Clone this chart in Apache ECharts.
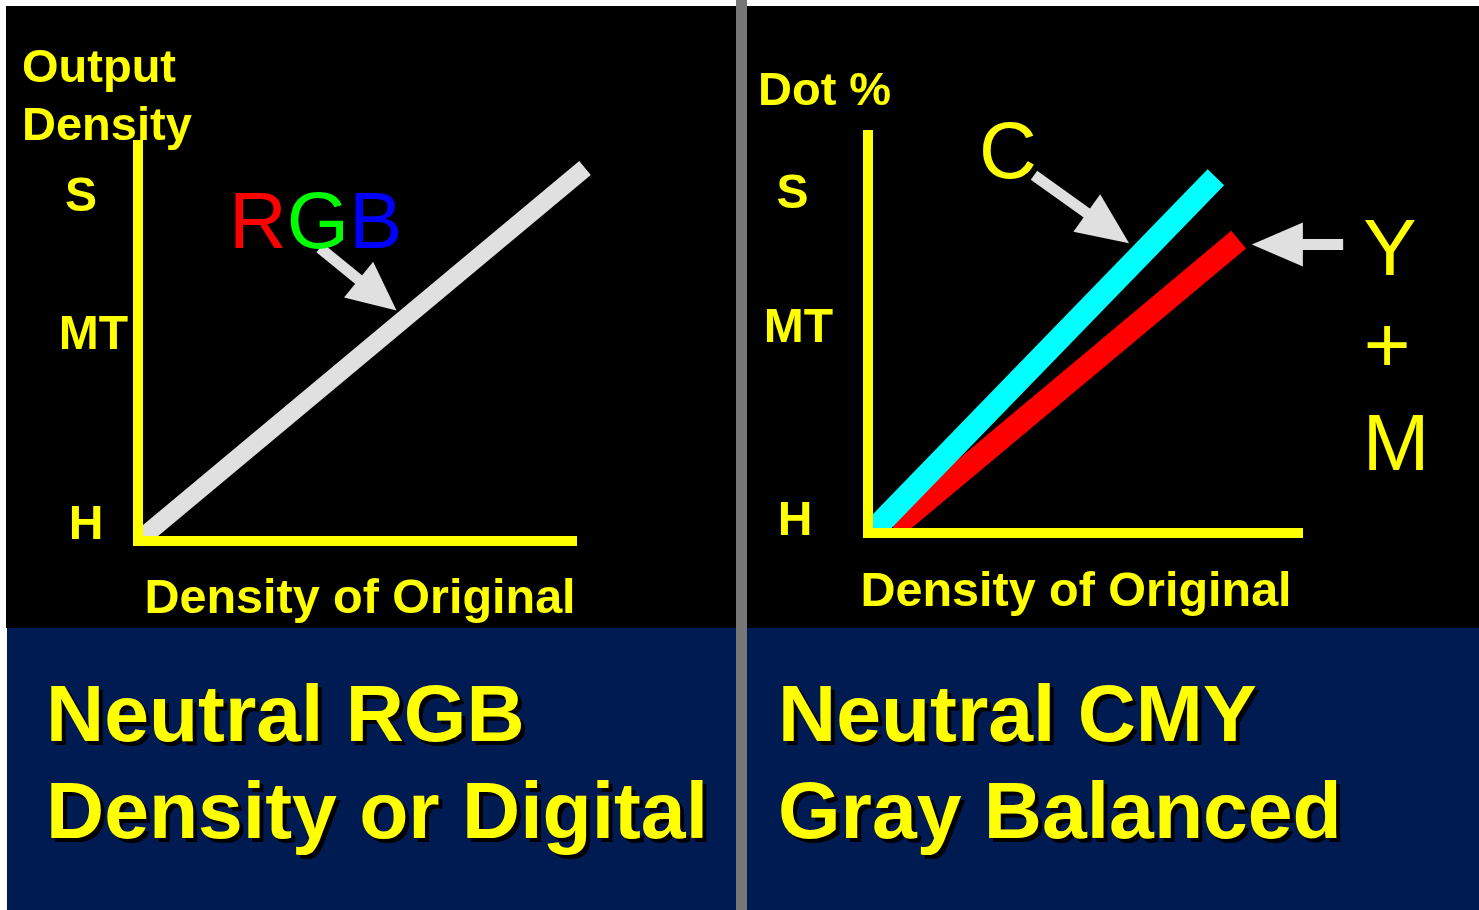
<!DOCTYPE html>
<html>
<head>
<meta charset="utf-8">
<title>Neutral RGB / Neutral CMY</title>
<script src="https://cdn.jsdelivr.net/npm/echarts@6/dist/echarts.min.js"></script>
<style>
    html, body { margin: 0; padding: 0; background: #ffffff; }
    #wrap { position: relative; width: 1479px; height: 910px; overflow: hidden; background: #ffffff; }
    .bg { position: absolute; }
    #char1 { position: absolute; left: 0; top: 0; width: 1479px; height: 910px; }
</style>
</head>
<body>
<div id="wrap">
    <div class="bg" style="left:6px;top:6px;width:730px;height:622px;background:#000000"></div>
    <div class="bg" style="left:747px;top:6px;width:732px;height:622px;background:#000000"></div>
    <div class="bg" style="left:7px;top:628px;width:729px;height:282px;background:#001a52"></div>
    <div class="bg" style="left:747px;top:628px;width:732px;height:282px;background:#001a52"></div>
    <div class="bg" style="left:736px;top:0px;width:11px;height:910px;background:#777777"></div>
    <div id="char1"></div>
</div>
<script>
// data, in axis units 0..100 (both axes)
var tickNames = ['S', 'MT', 'H'];
var leftTickValues = [86.6, 51.8, 3.9];
var rightTickValues = [85.1, 51.3, 2.8];

var rgbLine = [[1.24, 1.14], [103.0, 94.2]];
var cyanLine = [[1.53, 1.0], [80.9, 89.4]];
var ymLine = [[6.0, 1.26], [86.2, 73.7]];

// arrows: [start, head centre]
var rgbArrow = [[41.9, 74.0], [55.2, 62.1]];
var cArrow = [[38.6, 89.9], [55.8, 76.6]];
var ymArrow = [[110.5, 72.5], [95.2, 72.5]];

var FONT = '"Liberation Sans", Arial, Helvetica, sans-serif';
var YELLOW = '#ffff00';
var ARROW = '#e0e0e0';

function makeX(idx) {
    return {
        type: 'value', gridIndex: idx, min: 0, max: 100, z: 5,
        axisLine: { show: true, onZero: false, lineStyle: { color: YELLOW, width: 10, cap: 'square' } },
        axisTick: { show: false }, axisLabel: { show: false }, splitLine: { show: false }
    };
}

function makeY(idx, values, margin, rich) {
    return {
        type: 'value', gridIndex: idx, min: 0, max: 100, z: 5,
        axisLine: { show: true, onZero: false, lineStyle: { color: YELLOW, width: 10, cap: 'square' } },
        axisTick: { show: false }, splitLine: { show: false },
        axisLabel: {
            show: true,
            customValues: values,
            margin: margin,
            align: 'center',
            verticalAlign: 'middle',
            color: YELLOW,
            fontSize: 48,
            fontWeight: 'bold',
            fontFamily: FONT,
            formatter: function (value) {
                var i = values.indexOf(value);
                return '{t' + i + '|' + tickNames[i] + '}';
            },
            rich: rich
        }
    };
}

function tok(pad) {
    return { color: YELLOW, fontSize: 48, fontWeight: 'bold', fontFamily: FONT, padding: pad };
}

function txt(text, x, y, size, bold, align, color) {
    return {
        type: 'text', z: 10, silent: true,
        style: {
            text: text, x: x, y: y, fill: color || YELLOW,
            font: (bold ? 'bold ' : '') + size + 'px ' + FONT,
            textAlign: align || 'left', textVerticalAlign: 'middle'
        }
    };
}

function caption(text, x, y) {
    return [txt(text, x + 4, y + 4, 80.5, true, 'left', '#000000'), txt(text, x, y, 80.5, true, 'left')];
}

// arrow as a lines series: thin shaft + triangle head
function arrowSeries(grid, pts, head) {
    return {
        type: 'lines', coordinateSystem: 'cartesian2d', xAxisIndex: grid, yAxisIndex: grid,
        clip: false, silent: true, polyline: false, z: 3,
        symbol: ['none', 'triangle'], symbolSize: [1, head],
        lineStyle: { color: ARROW, width: 11, opacity: 1, curveness: 0, type: 'solid' },
        data: [{ coords: pts }]
    };
}

var myChart = echarts.init(document.getElementById('char1'), null, { renderer: 'canvas' });

var graphics = [
    txt('Output', 22, 69, 47, true),
    txt('Density', 22, 127, 47, true),
    txt('Dot %', 758, 92, 47, true),
    txt('Density of Original', 360, 600, 48.5, true, 'center'),
    txt('Density of Original', 1076, 593, 48.5, true, 'center'),
    {
        type: 'text', z: 10, silent: true,
        style: {
            text: '{r|R}{g|G}{b|B}', x: 229, y: 226,
            font: '80px ' + FONT, textAlign: 'left', textVerticalAlign: 'middle',
            rich: {
                r: { fill: '#ff0000', font: '80px ' + FONT },
                g: { fill: '#00ff00', font: '80px ' + FONT },
                b: { fill: '#0000ff', font: '80px ' + FONT }
            }
        }
    },
    txt('C', 1008, 156, 80, false, 'center'),
    txt('Y', 1390, 253, 80, false, 'center'),
    txt('+', 1387, 350, 80, false, 'center'),
    txt('M', 1396, 448, 80, false, 'center')
];
graphics = graphics
    .concat(caption('Neutral RGB', 46, 719))
    .concat(caption('Density or Digital', 46, 816))
    .concat(caption('Neutral CMY', 778, 719))
    .concat(caption('Gray Balanced', 778, 816));

option = {
    animation: false,
    backgroundColor: 'transparent',
    grid: [
        { left: 138, top: 145, width: 434, height: 396, outerBoundsMode: 'none', containLabel: false },
        { left: 868, top: 135, width: 430, height: 398, outerBoundsMode: 'none', containLabel: false }
    ],
    xAxis: [makeX(0), makeX(1)],
    yAxis: [
        makeY(0, leftTickValues, 51, { t0: tok([0, 12, 0, 0]), t1: tok([0, 0, 0, 13]), t2: tok([0, 2, 0, 0]) }),
        makeY(1, rightTickValues, 73, { t0: tok([0, 5, 0, 0]), t1: tok([0, 0, 0, 7]), t2: tok([0, 0, 0, 0]) })
    ],
    graphic: graphics,
    series: [
        {
            name: 'RGB', type: 'lines', coordinateSystem: 'cartesian2d', xAxisIndex: 0, yAxisIndex: 0,
            clip: false, silent: true, polyline: false, z: 2,
            lineStyle: { color: ARROW, width: 18, opacity: 1, curveness: 0, type: 'solid', cap: 'butt' },
            data: [{ coords: rgbLine }]
        },
        {
            name: 'Y+M', type: 'line', xAxisIndex: 1, yAxisIndex: 1,
            data: ymLine, symbol: 'none', clip: false, silent: true,
            lineStyle: { color: '#ff0000', width: 23, cap: 'butt' }
        },
        {
            name: 'C', type: 'line', xAxisIndex: 1, yAxisIndex: 1,
            data: cyanLine, symbol: 'none', clip: false, silent: true,
            lineStyle: { color: '#00ffff', width: 23, cap: 'butt' }
        },
        arrowSeries(0, rgbArrow, [46, 49]),
        arrowSeries(1, cArrow, [46, 52]),
        arrowSeries(1, ymArrow, [44, 51])
    ]
};

myChart.setOption(option);
window.addEventListener('resize', function () { myChart.resize(); })
</script>
</body>
</html>
